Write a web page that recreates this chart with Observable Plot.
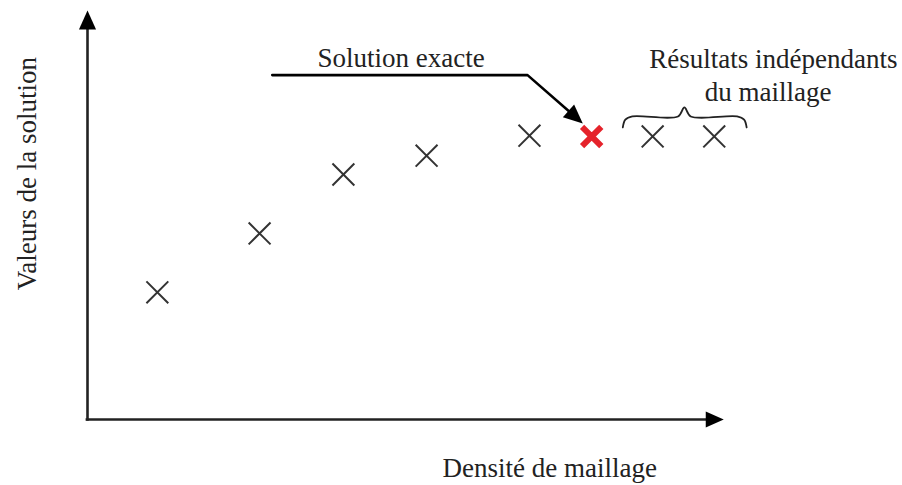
<!DOCTYPE html>
<html>
<head>
<meta charset="utf-8">
<script src="https://cdn.jsdelivr.net/npm/d3@7"></script>
<script src="https://cdn.jsdelivr.net/npm/@observablehq/plot@0.6"></script>
<style>
  html, body { margin: 0; padding: 0; background: #fff; }
  #chart { width: 902px; height: 485px; }
  #chart svg text { font-family: "Liberation Serif", "Times New Roman", serif !important; }
</style>
</head>
<body>
<div id="chart"></div>
<script>
// ---- data (abstract units: mesh density 0–100, solution value 0–100) ----
const meshDensity   = [11.0, 27.1, 40.3, 53.4, 69.6, 89.0, 98.7];
const solutionValue = [31.1, 45.5, 59.9, 64.5, 69.4, 69.2, 69.2];
const exactDensity  = [79.4];
const exactValue    = [69.2];

const xLabel = "Densité de maillage";
const yLabel = "Valeurs de la solution";
const exactLabel = "Solution exacte";
const indepLabel = ["Résultats indépendants", "du maillage"];

// annotation geometry (data units)
const leaderX = [29.1, 69.3, 78.0];
const leaderY = [84.2, 84.2, 72.4];
const braceX = [84.3, 84.7, 85.8, 93.0, 94.0, 95.0, 102.3, 103.4, 103.8];
const braceY = [71.4, 73.3, 74.1, 74.1, 76.3, 74.1, 74.1, 73.3, 71.4];

// ---- layout ----
const W = 902, H = 485;
const mL = 87, mR = 180, mT = 10, mB = 66;
const pxX = (W - mL - mR) / 100, pxY = (H - mT - mB) / 100;

const points = meshDensity.map((x, i) => ({x, y: solutionValue[i]}));
const exact = exactDensity.map((x, i) => ({x, y: exactValue[i]}));

// filled arrowhead symbol, tip at origin pointing up
const arrowHead = {
  draw(context, size) {
    const s = Math.sqrt(size / Math.PI);
    context.moveTo(0, 0);
    context.lineTo(-0.45 * s, s);
    context.lineTo(0.45 * s, s);
    context.closePath();
  }
};

// leader line: end a bit before tip, compute rotation of head
const n = leaderX.length;
const dxp = (leaderX[n-1] - leaderX[n-2]) * pxX;
const dyp = -(leaderY[n-1] - leaderY[n-2]) * pxY;
const len = Math.hypot(dxp, dyp);
const back = 10;
const leader = leaderX.map((x, i) => ({x, y: leaderY[i]}));
leader[n-1] = {
  x: leaderX[n-1] - (dxp / len) * back / pxX,
  y: leaderY[n-1] + (dyp / len) * back / pxY
};
const headAngle = Math.atan2(dxp, -dyp) * 180 / Math.PI;

const brace = braceX.map((x, i) => ({x, y: braceY[i]}));

const font = "'Liberation Serif', 'Times New Roman', serif";
const ink = "#222";

const plot = Plot.plot({
  width: W, height: H,
  marginLeft: mL, marginRight: mR, marginTop: mT, marginBottom: mB,
  x: {domain: [0, 100], axis: null},
  y: {domain: [0, 100], axis: null},
  style: {background: "#fff", overflow: "visible", fontFamily: font},
  marks: [
    // axes
    Plot.link([{}], {x1: -0.3, y1: 0, x2: 97.8, y2: 0, stroke: ink, strokeWidth: 2.6}),
    Plot.link([{}], {x1: 0, y1: -0.3, x2: 0, y2: 95.5, stroke: ink, strokeWidth: 2.6}),
    Plot.dot([{x: 100.2, y: 0}], {x: "x", y: "y", symbol: arrowHead, r: 18, fill: "#000", stroke: "none", rotate: 90}),
    Plot.dot([{x: 0, y: 100}], {x: "x", y: "y", symbol: arrowHead, r: 19, fill: "#000", stroke: "none", rotate: 0}),
    // axis labels
    Plot.text([xLabel], {x: 72.8, y: -12.0, text: d => d, fontFamily: font, fontSize: 27, fill: ink}),
    Plot.text([yLabel], {x: -9.4, y: 60.1, text: d => d, rotate: -90, fontFamily: font, fontSize: 27, fill: ink}),
    // data points
    Plot.dot(points, {x: "x", y: "y", symbol: "times", r: 10, stroke: "#333", strokeWidth: 2}),
    Plot.dot(exact, {x: "x", y: "y", symbol: "times", r: 8.8, stroke: "#e5232b", strokeWidth: 6}),
    // leader annotation
    Plot.line(leader, {x: "x", y: "y", stroke: "#000", strokeWidth: 2.6}),
    Plot.dot([{x: leaderX[n-1], y: leaderY[n-1]}], {x: "x", y: "y", symbol: arrowHead, r: 19, fill: "#000", stroke: "none", rotate: headAngle}),
    Plot.text([exactLabel], {x: 49.4, y: 88.3, text: d => d, fontFamily: font, fontSize: 27, fill: ink}),
    // brace annotation
    Plot.line(brace, {x: "x", y: "y", curve: "catmull-rom", stroke: ink, strokeWidth: 1.8}),
    Plot.text([indepLabel[0]], {x: 108.0, y: 88.0, text: d => d, fontFamily: font, fontSize: 27, fill: ink}),
    Plot.text([indepLabel[1]], {x: 107.2, y: 79.9, text: d => d, fontFamily: font, fontSize: 27, fill: ink})
  ]
});
document.getElementById("chart").appendChild(plot);
</script>
</body>
</html>
